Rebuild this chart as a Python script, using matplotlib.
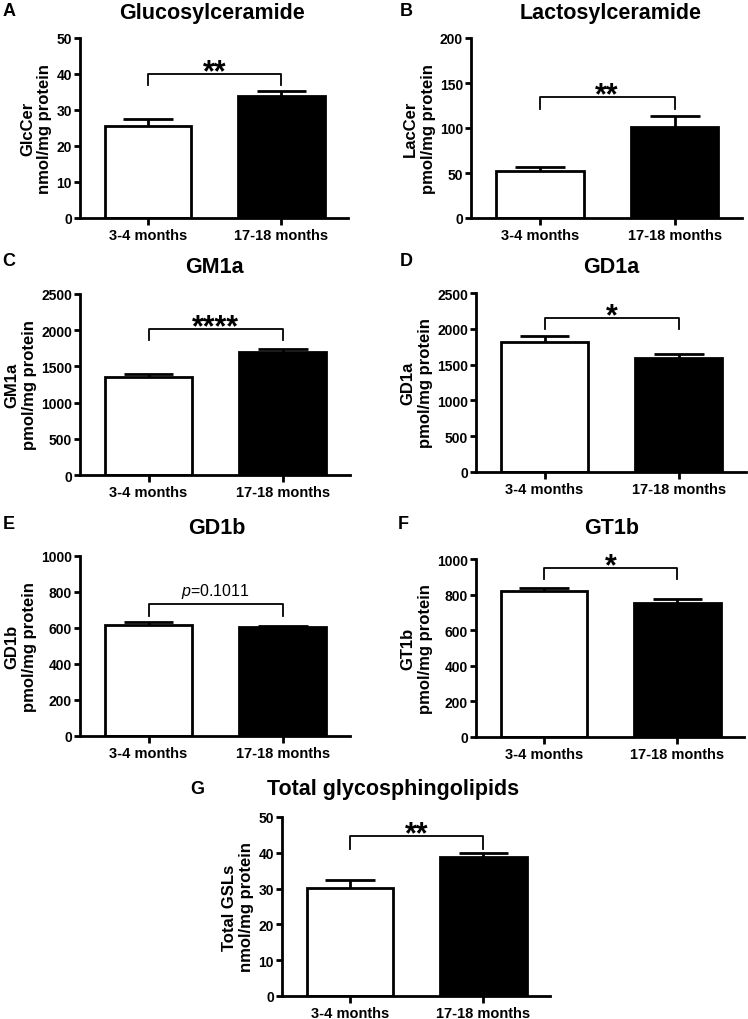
import matplotlib
matplotlib.use("Agg")
import matplotlib.pyplot as plt

plt.rcParams['font.family'] = ['Liberation Sans', 'DejaVu Sans']
plt.rcParams['mathtext.fontset'] = 'custom'
plt.rcParams['mathtext.rm'] = 'Liberation Sans'
plt.rcParams['mathtext.it'] = 'Liberation Sans:italic'

# ---------------- data ----------------
groups = ["3-4 months", "17-18 months"]
bar_colors = ["white", "black"]

panel_letters = ["A", "B", "C", "D", "E", "F", "G"]
titles = ["Glucosylceramide", "Lactosylceramide", "GM1a", "GD1a", "GD1b", "GT1b",
          "Total glycosphingolipids"]
ylabels = ["GlcCer\nnmol/mg protein", "LacCer\npmol/mg protein", "GM1a\npmol/mg protein",
           "GD1a\npmol/mg protein", "GD1b\npmol/mg protein", "GT1b\npmol/mg protein",
           "Total GSLs\nnmol/mg protein"]

glccer_mean = [25.6, 34.0]
glccer_sem = [2.0, 1.3]
laccer_mean = [52.3, 100.9]
laccer_sem = [4.5, 12.6]
gm1a_mean = [1356, 1696]
gm1a_sem = [36, 46]
gd1a_mean = [1821, 1588]
gd1a_sem = [75, 65]
gd1b_mean = [619, 605]
gd1b_sem = [14, 8]
gt1b_mean = [819, 755]
gt1b_sem = [17, 19]
total_mean = [30.2, 38.8]
total_sem = [2.1, 1.2]

means = [glccer_mean, laccer_mean, gm1a_mean, gd1a_mean, gd1b_mean, gt1b_mean, total_mean]
sems = [glccer_sem, laccer_sem, gm1a_sem, gd1a_sem, gd1b_sem, gt1b_sem, total_sem]

y_max = [50, 200, 2500, 2500, 1000, 1000, 50]
y_step = [10, 50, 500, 500, 200, 200, 10]

sig_labels = ["**", "**", "****", "*", "$p$=0.1011", "*", "**"]
bracket_top = [40, 135, 2022, 2151, 731, 949, 44.7]
bracket_foot = [37, 121, 1862, 1993, 665, 886, 41.2]

# ---------------- layout (pixels) ----------------
W, H = 748, 1020
# (spine x, right end x, top y, zero y)
boxes = [(80, 348, 39, 219), (471, 742, 39, 219),
         (80, 350, 295, 476), (476, 746, 294, 473),
         (80, 350, 557, 737), (476, 744, 560, 738),
         (282, 550, 818, 997)]
title_pos = [(212, 13), (611, 13), (214, 268), (611, 268), (217, 528), (612, 528), (393, 790)]
letter_pos = [(9, 12), (406, 12), (9, 261), (406, 261), (9, 525), (403, 525), (197, 790)]

fig = plt.figure(figsize=(W / 100, H / 100), dpi=100)

for i in range(7):
    x0, x1, yt, yb = boxes[i]
    ax = fig.add_axes([x0 / W, 1 - yb / H, (x1 - x0) / W, (yb - yt) / H])
    xs = [0, 1]
    ax.bar(xs, means[i], width=0.65, color=bar_colors, edgecolor="black",
           linewidth=2.0, zorder=2)
    cap = 0.185
    for x, m, s in zip(xs, means[i], sems[i]):
        ax.vlines(x, m, m + s, color="black", linewidth=2.0, zorder=3)
        ax.hlines(m + s, x - cap, x + cap, color="black", linewidth=2.0, zorder=3)
    # significance bracket
    ax.plot([0, 0, 1, 1], [bracket_foot[i], bracket_top[i], bracket_top[i], bracket_foot[i]],
            color="black", linewidth=1.3, zorder=3)
    if sig_labels[i].startswith("$"):
        ax.annotate(sig_labels[i], xy=(0.5, bracket_top[i]), xytext=(0, 3),
                    textcoords="offset points", ha="center", va="bottom",
                    fontsize=11.5, fontweight="normal")
    else:
        ax.annotate(sig_labels[i], xy=(0.5, bracket_top[i]), xytext=(0, -4.5),
                    textcoords="offset points", ha="center", va="baseline",
                    fontsize=22, fontweight="bold")

    ax.set_xlim(-0.51, 1.5)
    ax.set_ylim(0, y_max[i])
    ticks = list(range(0, y_max[i] + 1, y_step[i]))
    ax.set_yticks(ticks)
    ax.set_yticklabels([str(t) for t in ticks], fontsize=10, fontweight="bold")
    ax.set_xticks(xs)
    ax.set_xticklabels(groups, fontsize=10.5, fontweight="bold")
    ax.tick_params(axis="y", length=4.3, width=2.0, pad=1.5)
    ax.tick_params(axis="x", length=5, width=2.0, pad=2)
    for side in ["top", "right"]:
        ax.spines[side].set_visible(False)
    for side in ["left", "bottom"]:
        ax.spines[side].set_linewidth(2.0)
    ax.set_ylabel(ylabels[i], fontsize=12, fontweight="bold", labelpad=3,
                  linespacing=1.2)

    tx, ty = title_pos[i]
    fig.text(tx / W, 1 - ty / H, titles[i], ha="center", va="center",
             fontsize=15.5, fontweight="bold")
    lx, ly = letter_pos[i]
    fig.text(lx / W, 1 - ly / H, panel_letters[i], ha="center", va="center",
             fontsize=13, fontweight="bold")

fig.savefig("out.png", dpi=100)
